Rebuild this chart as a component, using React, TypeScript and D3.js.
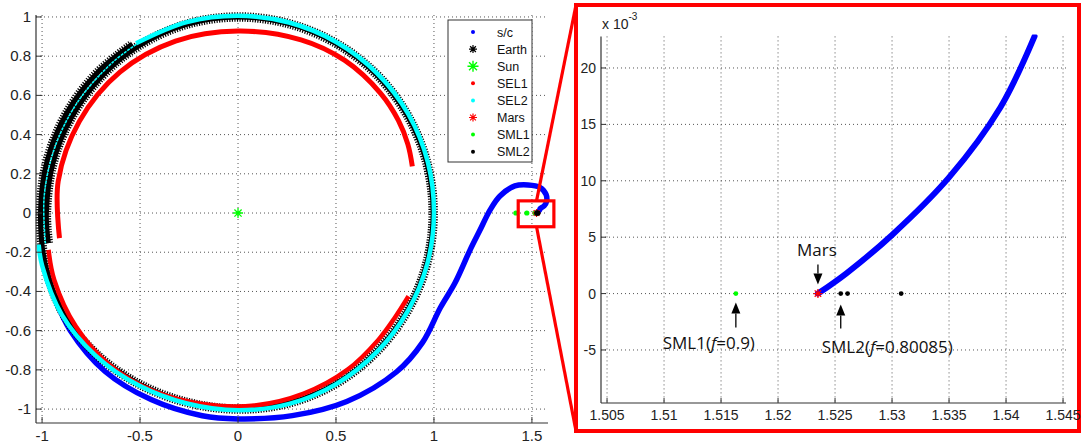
import * as d3 from "d3";

const W = 1082;
const H = 444;

// ---- tick values / labels ----
const xTicksL = [-1, -0.5, 0, 0.5, 1, 1.5];
const xTickLabelsL = ["-1", "-0.5", "0", "0.5", "1", "1.5"];
const yTicksL = [-1, -0.8, -0.6, -0.4, -0.2, 0, 0.2, 0.4, 0.6, 0.8, 1];
const yTickLabelsL = ["-1", "-0.8", "-0.6", "-0.4", "-0.2", "0", "0.2", "0.4", "0.6", "0.8", "1"];

const xTicksR = [1.505, 1.51, 1.515, 1.52, 1.525, 1.53, 1.535, 1.54, 1.545];
const xTickLabelsR = ["1.505", "1.51", "1.515", "1.52", "1.525", "1.53", "1.535", "1.54", "1.545"];
const yTicksR = [-0.005, 0, 0.005, 0.01, 0.015, 0.02];
const yTickLabelsR = ["-5", "0", "5", "10", "15", "20"];

// ---- series ----
// near-circular parts are read as (angle in degrees, radius)
// s/c: first lap around the Sun
const scTheta = [197, 205, 215, 230, 245, 260, 270, 285, 300, 315, 325, 335];
const scR = [1.02, 1.03, 1.045, 1.055, 1.05, 1.05, 1.05, 1.07, 1.11, 1.145, 1.15, 1.14];
// s/c: outbound arc and hook into Mars
const scX = [1.107, 1.184, 1.235, 1.286, 1.337, 1.413, 1.48, 1.54, 1.572, 1.575, 1.563];
const scY = [-0.357, -0.189, -0.087, 0.015, 0.087, 0.138, 0.143, 0.131, 0.095, 0.06, 0.037];
// last arc of the s/c into Mars (the zoomed panel)
const scFinalX = [1.5425, 1.5395, 1.535, 1.53, 1.526, 1.5235];
const scFinalY = [0.0228, 0.0165, 0.0103, 0.0052, 0.0018, 0];

const earthTheta = [189, 180, 165, 150, 135, 121, 105, 90, 75, 60, 45, 30, 15, 0, -15, -30, -45, -60, -75, -90, -105, -120, -135, -150, -165, -180, -195, -210, -225, -238];
const earthR = [0.98, 0.978, 0.978, 0.98, 0.985, 0.992, 0.998, 1.0, 1.0, 1.0, 1.0, 0.998, 0.997, 0.996, 0.997, 0.998, 1.0, 1.003, 1.003, 1.0, 1.0, 1.008, 1.02, 1.028, 1.018, 1.008, 1.01, 1.012, 1.014, 1.016];

const sunX = [0];
const sunY = [0];

const sel1InnerTheta = [15, 22, 30, 40, 55, 70, 90, 110, 130, 150, 170, 188];
const sel1InnerR = [0.921, 0.935, 0.945, 0.95, 0.95, 0.94, 0.928, 0.933, 0.938, 0.935, 0.932, 0.92];
const sel1OuterTheta = [191, 200, 215, 230, 245, 260, 275, 290, 305, 318, 326, 334];
const sel1OuterR = [0.985, 0.998, 1.01, 1.015, 1.005, 0.99, 0.985, 0.98, 0.975, 0.965, 0.962, 0.968];

const sel2Theta = [121, 105, 90, 75, 60, 45, 30, 15, 0, -15, -30, -45, -60, -75, -90, -105, -120, -135, -150, -165, -171];
const sel2R = [1.01, 1.008, 1.006, 1.006, 1.006, 1.006, 1.005, 1.003, 1.0, 1.0, 1.0, 1.002, 1.006, 1.008, 1.006, 1.006, 1.015, 1.028, 1.038, 1.035, 1.03];
const sel2LeftTheta = [189, 175, 160, 145, 130, 121];
const sel2LeftR = [0.995, 0.993, 0.993, 0.995, 1.0, 1.005];

const marsX = [1.5235];
const marsY = [0];
const sml1X = [1.418, 1.474, 1.5163];
const sml1Y = [0, 0, 0];
const sml2X = [1.5255, 1.5261, 1.5308];
const sml2Y = [0, 0, 0];

const legendNames = ["s/c", "Earth", "Sun", "SEL1", "SEL2", "Mars", "SML1", "SML2"];
const legendColors = ["#0000ff", "#000000", "#00ff00", "#ff0000", "#00ffff", "#ff0000", "#00ff00", "#000000"];
const legendMarks = ["dot", "star", "bigstar", "dot", "dot", "star", "dot", "dot"];

// zoom window on the left panel (data units)
const zoomBoxX = [1.43, 1.612];
const zoomBoxY = [-0.07, 0.062];

// ---- scales ----
const xL = d3.scaleLinear().domain([-1.031, 1.582]).range([36, 548]);
const yL = d3.scaleLinear().domain([-1.071, 1.01]).range([423, 15]);
const xR = d3.scaleLinear().domain([1.50447, 1.54526]).range([601, 1066]);
const yR = d3.scaleLinear().domain([-0.0097, 0.0228]).range([403, 36.4]);

type P = [number, number];
const zip = (xs: number[], ys: number[]) => xs.map((x, i) => [x, ys[i]] as P);
const polar = (th: number[], rs: number[]) =>
  th.map((t, i) => [rs[i] * Math.cos((t * Math.PI) / 180), rs[i] * Math.sin((t * Math.PI) / 180)] as P);

const lineL = d3.line<P>().x((d) => xL(d[0])).y((d) => yL(d[1])).curve(d3.curveCatmullRom.alpha(0.5));
const lineR = d3.line<P>().x((d) => xR(d[0])).y((d) => yR(d[1])).curve(d3.curveCatmullRom.alpha(0.5));

const star = (cx: number, cy: number, s: number) => {
  const d = s * 0.72;
  return `M${cx - s},${cy}H${cx + s}M${cx},${cy - s}V${cy + s}M${cx - d},${cy - d}L${cx + d},${cy + d}M${cx - d},${cy + d}L${cx + d},${cy - d}`;
};

const GRID = "#555";
const AX = "#333";
const TICKFONT = "'Liberation Sans', Arial, sans-serif";
const NOTEFONT = "'Open Sans', 'Noto Sans', sans-serif";

const Arrow = ({ x, y1, y2 }: { x: number; y1: number; y2: number }) => {
  // tail at y1, tip at y2
  const dir = y2 > y1 ? 1 : -1;
  const hl = 11;
  const hw = 4.5;
  return (
    <g>
      <line x1={x} y1={y1} x2={x} y2={y2 - dir * hl} stroke="#000" strokeWidth={1.3} />
      <path d={`M${x},${y2}L${x - hw},${y2 - dir * hl}L${x + hw},${y2 - dir * hl}Z`} fill="#000" />
    </g>
  );
};

export default function App() {
  const [l0, l1] = xL.range();
  const [b0, t0] = yL.range();
  const [r0, r1] = xR.range();
  const [b1, t1] = yR.range();

  const scAll = polar(scTheta, scR).concat(zip(scX, scY), zip(scFinalX, scFinalY));
  const earth = lineL(polar(earthTheta, earthR)) || "";
  const y0R = yR(0);

  return (
    <svg width={W} height={H} style={{ display: "block", position: "absolute", left: 0, top: 0, background: "#fff" }}>
      <defs>
        <clipPath id="clipR">
          <rect x={r0} y={t1 - 2} width={r1 - r0} height={b1 - t1 + 2} />
        </clipPath>
      </defs>
      <rect x={0} y={0} width={W} height={H} fill="#fff" />

      {/* ---------- left panel ---------- */}
      <g>
        {xTicksL.map((t) => (
          <line key={"gx" + t} x1={xL(t)} x2={xL(t)} y1={t0} y2={b0} stroke={GRID} strokeDasharray="1 3" />
        ))}
        {yTicksL.map((t) => (
          <line key={"gy" + t} x1={l0} x2={l1} y1={yL(t)} y2={yL(t)} stroke={GRID} strokeDasharray="1 3" />
        ))}

        {/* s/c */}
        <path d={lineL(scAll) || ""} fill="none" stroke="#0000ff" strokeWidth={5.5} strokeLinecap="round" strokeLinejoin="round" />
        {/* Earth */}
        <path d={earth} fill="none" stroke="#000" strokeWidth={5} />
        <path d={earth} fill="none" stroke="#000" strokeWidth={9.5} strokeDasharray="1.2 1.4" />
        {/* Sun */}
        {sunX.map((x, i) => (
          <path key={"sun" + i} d={star(xL(x), yL(sunY[i]), 5)} stroke="#00ff00" strokeWidth={1.3} fill="none" />
        ))}
        {/* SEL1 */}
        <path d={lineL(polar(sel1InnerTheta, sel1InnerR)) || ""} fill="none" stroke="#ff0000" strokeWidth={5} />
        <path d={lineL(polar(sel1OuterTheta, sel1OuterR)) || ""} fill="none" stroke="#ff0000" strokeWidth={4.5} />
        {/* SEL2 */}
        <path d={lineL(polar(sel2Theta, sel2R)) || ""} fill="none" stroke="#00ffff" strokeWidth={4.5} />
        <path d={lineL(polar(sel2LeftTheta, sel2LeftR)) || ""} fill="none" stroke="#00ffff" strokeWidth={1.5} strokeDasharray="3 1" />
        {/* SML1 */}
        {sml1X.map((x, i) => (
          <circle key={"s1" + i} cx={xL(x)} cy={yL(sml1Y[i])} r={2.6} fill="#00ff00" />
        ))}
        {/* Mars */}
        {marsX.map((x, i) => (
          <path key={"mars" + i} d={star(xL(x), yL(marsY[i]), 4)} stroke="#ff0000" strokeWidth={1.2} fill="none" />
        ))}
        {/* SML2 */}
        {sml2X.map((x, i) => (
          <circle key={"s2" + i} cx={xL(x)} cy={yL(sml2Y[i])} r={2.6} fill="#000" />
        ))}

        {/* axes */}
        <line x1={l0} x2={l0} y1={t0} y2={b0} stroke={AX} strokeWidth={1.2} />
        <line x1={l0} x2={l1} y1={b0} y2={b0} stroke={AX} strokeWidth={1.2} />
        {xTicksL.map((t, i) => (
          <g key={"tx" + t}>
            <line x1={xL(t)} x2={xL(t)} y1={b0} y2={b0 - 6} stroke={AX} />
            <text x={xL(t)} y={b0 + 18} textAnchor="middle" fontFamily={TICKFONT} fontSize={15} fill="#222">
              {xTickLabelsL[i]}
            </text>
          </g>
        ))}
        {yTicksL.map((t, i) => (
          <g key={"ty" + t}>
            <line x1={l0} x2={l0 + 6} y1={yL(t)} y2={yL(t)} stroke={AX} />
            <text x={l0 - 5} y={yL(t) + 5} textAnchor="end" fontFamily={TICKFONT} fontSize={15} fill="#222">
              {yTickLabelsL[i]}
            </text>
          </g>
        ))}

        {/* legend */}
        <rect x={448} y={20} width={84} height={142} fill="#fff" stroke={AX} strokeWidth={1} />
        {legendNames.map((n, i) => {
          const cy = 32 + i * 17.1;
          const c = legendColors[i];
          const m = legendMarks[i];
          return (
            <g key={n}>
              {m === "dot" && <circle cx={473} cy={cy} r={2} fill={c} />}
              {m === "star" && <path d={star(473, cy, 4)} stroke={c} strokeWidth={1.2} fill="none" />}
              {m === "bigstar" && <path d={star(473, cy, 5.5)} stroke={c} strokeWidth={1.4} fill="none" />}
              <text x={497} y={cy + 4.5} fontFamily={TICKFONT} fontSize={12.5} fill="#111">
                {n}
              </text>
            </g>
          );
        })}
      </g>

      {/* zoom box and callout lines */}
      <rect
        x={xL(zoomBoxX[0])}
        y={yL(zoomBoxY[1])}
        width={xL(zoomBoxX[1]) - xL(zoomBoxX[0])}
        height={yL(zoomBoxY[0]) - yL(zoomBoxY[1])}
        fill="none"
        stroke="#ff0000"
        strokeWidth={3.2}
      />
      <line x1={xL(marsX[0])} y1={yL(zoomBoxY[1])} x2={576} y2={5} stroke="#ff0000" strokeWidth={3.2} />
      <line x1={xL(marsX[0])} y1={yL(zoomBoxY[0])} x2={576} y2={431} stroke="#ff0000" strokeWidth={3.2} />

      {/* ---------- right panel ---------- */}
      <rect x={576} y={5} width={503} height={426} fill="#fff" stroke="#ff0000" strokeWidth={4} />
      <g>
        {xTicksR.map((t) => (
          <line key={"rgx" + t} x1={xR(t)} x2={xR(t)} y1={t1} y2={b1} stroke={GRID} strokeDasharray="1 3" />
        ))}
        {yTicksR.map((t) => (
          <line key={"rgy" + t} x1={r0} x2={r1} y1={yR(t)} y2={yR(t)} stroke={GRID} strokeDasharray="1 3" />
        ))}
        <g clipPath="url(#clipR)">
          <path d={lineR(zip(scFinalX, scFinalY)) || ""} fill="none" stroke="#0000ff" strokeWidth={6} strokeLinecap="round" />
          {sml1X.map((x, i) => (
            <circle key={"rs1" + i} cx={xR(x)} cy={yR(sml1Y[i])} r={2.4} fill="#00ff00" />
          ))}
          {sml2X.map((x, i) => (
            <circle key={"rs2" + i} cx={xR(x)} cy={yR(sml2Y[i])} r={2.4} fill="#000" />
          ))}
          {marsX.map((x, i) => (
            <path key={"rm" + i} d={star(xR(x), yR(marsY[i]), 4.5)} stroke="#ff0000" strokeWidth={1.3} fill="none" />
          ))}
        </g>

        <line x1={r0} x2={r0} y1={t1} y2={b1} stroke={AX} strokeWidth={1.2} />
        <line x1={r0} x2={r1} y1={b1} y2={b1} stroke={AX} strokeWidth={1.2} />
        {xTicksR.map((t, i) => (
          <g key={"rtx" + t}>
            <line x1={xR(t)} x2={xR(t)} y1={b1} y2={b1 - 5} stroke={AX} />
            <text x={xR(t)} y={b1 + 17} textAnchor="middle" fontFamily={TICKFONT} fontSize={14} fill="#222">
              {xTickLabelsR[i]}
            </text>
          </g>
        ))}
        {yTicksR.map((t, i) => (
          <g key={"rty" + t}>
            <line x1={r0} x2={r0 + 5} y1={yR(t)} y2={yR(t)} stroke={AX} />
            <text x={r0 - 5} y={yR(t) + 5} textAnchor="end" fontFamily={TICKFONT} fontSize={14} fill="#222">
              {yTickLabelsR[i]}
            </text>
          </g>
        ))}
        <text x={r0 + 1} y={29} fontFamily={TICKFONT} fontSize={14} fill="#222">
          x 10
          <tspan dy={-9} fontSize={10}>-3</tspan>
        </text>

        {/* annotations */}
        <text x={xR(marsX[0]) - 1} y={y0R - 38} textAnchor="middle" fontFamily={NOTEFONT} fontSize={17} fill="#111">
          Mars
        </text>
        <Arrow x={xR(marsX[0])} y1={y0R - 29} y2={y0R - 9} />
        <Arrow x={xR(sml1X[2])} y1={y0R + 34} y2={y0R + 9} />
        <text x={xR(sml1X[2]) + 19} y={y0R + 55} textAnchor="end" fontFamily={NOTEFONT} fontSize={17} fill="#111">
          SML1(<tspan fontStyle="italic">f</tspan>=0.9)
        </text>
        <Arrow x={xR(sml2X[0])} y1={y0R + 35} y2={y0R + 11} />
        <text x={xR(sml2X[0]) - 19} y={y0R + 59} fontFamily={NOTEFONT} fontSize={17} fill="#111">
          SML2(<tspan fontStyle="italic">f</tspan>=0.80085)
        </text>
      </g>
    </svg>
  );
}
